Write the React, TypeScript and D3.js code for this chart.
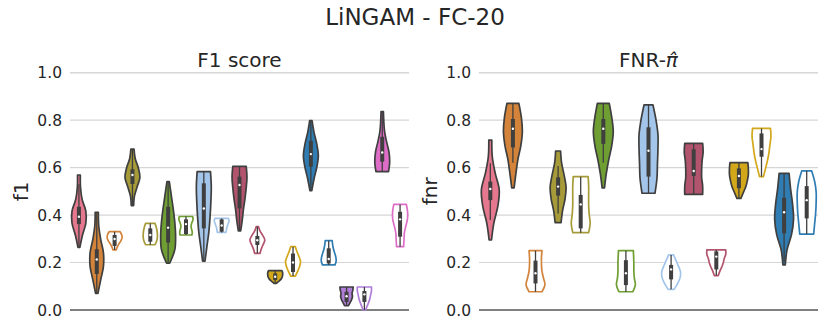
import * as d3 from "d3";

const W = 830;
const H = 332;
const FONT = "DejaVu Sans";
const TEXT = "#262626";
const EDGE = "#3f3f3f";

// one colour per method (muted, as seaborn draws them)
const hueColors = [
  "#e5778f", // pink
  "#d3843a", // orange
  "#a69b38", // olive
  "#6f9e33", // green
  "#a3c5ea", // light blue
  "#b3546e", // rose
  "#d2a81a", // gold
  "#2f7db3", // blue
  "#b07dd8", // purple
  "#dd6dc7", // magenta
];

const yTicks = [0, 0.2, 0.4, 0.6, 0.8, 1.0];

// ---- F1 score panel ----
const f1Hue = [0, 1, 1, 2, 2, 3, 3, 4, 4, 5, 5, 6, 6, 7, 7, 8, 8, 9, 9];
const f1Filled = [1, 1, 0, 1, 0, 1, 0, 1, 0, 1, 0, 1, 0, 1, 0, 1, 0, 1, 0];
// [min, whiskerLow, q1, median, q3, whiskerHigh, max]
const f1Box = [
  [0.264, 0.264, 0.362, 0.393, 0.435, 0.53, 0.569],
  [0.07, 0.07, 0.152, 0.213, 0.256, 0.41, 0.412],
  [0.253, 0.253, 0.27, 0.299, 0.316, 0.33, 0.33],
  [0.44, 0.44, 0.531, 0.569, 0.593, 0.678, 0.678],
  [0.275, 0.275, 0.288, 0.316, 0.344, 0.365, 0.365],
  [0.197, 0.197, 0.284, 0.347, 0.435, 0.541, 0.541],
  [0.316, 0.316, 0.32, 0.362, 0.382, 0.394, 0.394],
  [0.206, 0.206, 0.344, 0.428, 0.534, 0.583, 0.583],
  [0.327, 0.327, 0.33, 0.356, 0.382, 0.386, 0.386],
  [0.333, 0.333, 0.428, 0.527, 0.562, 0.605, 0.605],
  [0.239, 0.239, 0.274, 0.294, 0.312, 0.351, 0.351],
  [0.112, 0.112, 0.126, 0.14, 0.154, 0.166, 0.166],
  [0.143, 0.143, 0.16, 0.2, 0.238, 0.267, 0.267],
  [0.503, 0.503, 0.604, 0.657, 0.713, 0.798, 0.798],
  [0.19, 0.19, 0.196, 0.215, 0.26, 0.292, 0.292],
  [0.018, 0.018, 0.034, 0.058, 0.077, 0.097, 0.097],
  [0.0, 0.0, 0.034, 0.066, 0.08, 0.097, 0.097],
  [0.583, 0.583, 0.625, 0.664, 0.73, 0.836, 0.836],
  [0.267, 0.267, 0.309, 0.382, 0.414, 0.445, 0.445],
];
// relative width at evenly spaced points from min (first) to max (last)
const f1Density = [
  [0.12, 0.45, 0.88, 0.88, 0.4, 0.2, 0.18],
  [0.15, 0.5, 0.85, 0.85, 0.5, 0.25, 0.2],
  [0.2, 0.35, 0.55, 0.8, 0.95, 0.9, 0.7],
  [0.15, 0.25, 0.6, 0.95, 0.75, 0.35, 0.2],
  [0.6, 0.8, 0.9, 0.9, 0.85, 0.75, 0.6],
  [0.2, 0.85, 0.95, 0.85, 0.65, 0.4, 0.15],
  [0.75, 0.8, 0.7, 0.65, 0.75, 0.9, 0.85],
  [0.15, 0.4, 0.65, 0.8, 0.9, 0.95, 0.85],
  [0.55, 0.6, 0.65, 0.75, 0.85, 0.95, 0.85],
  [0.15, 0.35, 0.5, 0.7, 0.85, 0.95, 0.85],
  [0.35, 0.5, 0.75, 0.95, 0.7, 0.35, 0.15],
  [0.15, 0.45, 0.75, 0.9, 0.95, 0.95, 0.85],
  [0.3, 0.6, 0.85, 0.95, 0.75, 0.5, 0.3],
  [0.12, 0.4, 0.75, 0.95, 0.75, 0.4, 0.15],
  [0.8, 0.95, 0.9, 0.75, 0.6, 0.5, 0.45],
  [0.25, 0.45, 0.65, 0.75, 0.7, 0.8, 0.85],
  [0.15, 0.35, 0.55, 0.7, 0.8, 0.9, 0.9],
  [0.8, 0.95, 0.85, 0.55, 0.3, 0.2, 0.15],
  [0.45, 0.5, 0.55, 0.75, 0.95, 0.95, 0.8],
];

// ---- FNR panel ----
const fnrHue = [0, 1, 1, 2, 2, 3, 3, 4, 4, 5, 5, 6, 6, 7, 7];
const fnrFilled = [1, 1, 0, 1, 0, 1, 0, 1, 0, 1, 0, 1, 0, 1, 0];
const fnrBox = [
  [0.295, 0.379, 0.463, 0.51, 0.541, 0.618, 0.716],
  [0.515, 0.62, 0.685, 0.764, 0.805, 0.871, 0.871],
  [0.077, 0.077, 0.112, 0.155, 0.208, 0.25, 0.25],
  [0.368, 0.407, 0.482, 0.52, 0.559, 0.607, 0.67],
  [0.326, 0.326, 0.344, 0.445, 0.485, 0.562, 0.562],
  [0.515, 0.62, 0.7, 0.764, 0.805, 0.871, 0.871],
  [0.077, 0.077, 0.105, 0.155, 0.21, 0.25, 0.25],
  [0.492, 0.492, 0.562, 0.671, 0.77, 0.864, 0.864],
  [0.087, 0.087, 0.129, 0.171, 0.19, 0.232, 0.232],
  [0.487, 0.487, 0.565, 0.586, 0.677, 0.702, 0.702],
  [0.145, 0.145, 0.171, 0.225, 0.247, 0.253, 0.253],
  [0.47, 0.47, 0.513, 0.565, 0.597, 0.621, 0.621],
  [0.562, 0.562, 0.646, 0.678, 0.744, 0.765, 0.765],
  [0.19, 0.2, 0.323, 0.412, 0.473, 0.576, 0.576],
  [0.32, 0.32, 0.386, 0.463, 0.522, 0.586, 0.586],
];
const fnrDensity = [
  [0.12, 0.35, 0.75, 0.9, 0.5, 0.2, 0.15],
  [0.12, 0.3, 0.5, 0.8, 0.95, 0.85, 0.6],
  [0.65, 0.95, 0.8, 0.65, 0.6, 0.6, 0.65],
  [0.3, 0.45, 0.7, 0.8, 0.6, 0.35, 0.25],
  [0.8, 0.95, 0.85, 0.8, 0.8, 0.8, 0.75],
  [0.12, 0.3, 0.55, 0.85, 1.0, 0.85, 0.6],
  [0.7, 0.95, 0.85, 0.8, 0.8, 0.78, 0.75],
  [0.65, 0.85, 0.9, 0.95, 0.95, 0.75, 0.45],
  [0.3, 0.65, 0.9, 0.95, 0.75, 0.5, 0.25],
  [0.9, 0.9, 0.8, 0.8, 0.85, 0.95, 0.9],
  [0.2, 0.35, 0.55, 0.7, 0.8, 0.95, 0.95],
  [0.2, 0.45, 0.7, 0.85, 0.95, 0.95, 0.9],
  [0.2, 0.4, 0.6, 0.75, 0.85, 0.95, 0.9],
  [0.12, 0.3, 0.75, 0.95, 0.85, 0.65, 0.5],
  [0.7, 0.8, 0.9, 0.95, 0.95, 0.8, 0.5],
];

const PLOT_TOP = 72.7;
const PLOT_BOTTOM = 310;

type PanelProps = {
  left: number;
  right: number;
  title: React.ReactNode;
  ylabel: string;
  hue: number[];
  filled: number[];
  box: number[][];
  density: number[][];
};

const Panel = ({ left, right, title, ylabel, hue, filled, box, density }: PanelProps) => {
  const y = d3.scaleLinear().domain([0, 1]).range([PLOT_BOTTOM, PLOT_TOP]);
  const x = d3
    .scaleBand<number>()
    .domain(d3.range(hue.length))
    .range([left, right])
    .padding(0);
  const half = (x.bandwidth() * 0.88) / 2;
  const cx = (i: number) => (x(i) as number) + x.bandwidth() / 2;

  return (
    <g>
      <text
        x={(left + right) / 2}
        y={67}
        fontSize={20}
        textAnchor="middle"
        fill={TEXT}
      >
        {title}
      </text>
      <text
        transform={`translate(${left - 42},${(PLOT_TOP + PLOT_BOTTOM) / 2}) rotate(-90)`}
        fontSize={20}
        textAnchor="middle"
        fill={TEXT}
      >
        {ylabel}
      </text>

      {/* grid */}
      {yTicks.map((t) => (
        <g key={t}>
          {t > 0 && (
            <line
              x1={left}
              x2={right}
              y1={y(t)}
              y2={y(t)}
              stroke="#d6d6d6"
              strokeWidth={t === 1 ? 1.6 : 1.1}
            />
          )}
          <text
            x={left - 8}
            y={y(t) + 5.6}
            fontSize={15.5}
            textAnchor="end"
            fill={TEXT}
          >
            {t.toFixed(1)}
          </text>
        </g>
      ))}
      <line x1={left} x2={right} y1={y(0)} y2={y(0)} stroke="#808080" strokeWidth={2} />

      {/* violins */}
      {box.map((b, i) => {
        const [mn, wlo, q1, med, q3, whi, mx] = b;
        const dens = density[i];
        const pts = dens.map((w, k) => ({
          v: mn + ((mx - mn) * k) / (dens.length - 1),
          w,
        }));
        const area = d3
          .area<{ v: number; w: number }>()
          .y((p) => y(p.v))
          .x0((p) => cx(i) - p.w * half)
          .x1((p) => cx(i) + p.w * half)
          .curve(d3.curveCatmullRom.alpha(0.5));
        const color = hueColors[hue[i]];
        const isFilled = filled[i] === 1;
        return (
          <g key={i}>
            <path
              d={area(pts) || ""}
              fill={isFilled ? color : "white"}
              stroke={isFilled ? EDGE : color}
              strokeWidth={1.7}
              strokeLinejoin="round"
            />
            <line
              x1={cx(i)}
              x2={cx(i)}
              y1={y(wlo)}
              y2={y(whi)}
              stroke={EDGE}
              strokeWidth={1.3}
            />
            <line
              x1={cx(i)}
              x2={cx(i)}
              y1={y(q1)}
              y2={y(q3)}
              stroke={EDGE}
              strokeWidth={4}
            />
            <circle cx={cx(i)} cy={y(med)} r={1.2} fill="white" />
          </g>
        );
      })}
    </g>
  );
};

export default function App() {
  return (
    <svg
      width={W}
      height={H}
      style={{ position: "absolute", left: 0, top: 0, background: "white" }}
      fontFamily={FONT}
    >
      <rect width={W} height={H} fill="white" />
      <text x={415} y={25} fontSize={23} textAnchor="middle" fill={TEXT}>
        LiNGAM - FC-20
      </text>
      <Panel
        left={70}
        right={409}
        title="F1 score"
        ylabel="f1"
        hue={f1Hue}
        filled={f1Filled}
        box={f1Box}
        density={f1Density}
      />
      <Panel
        left={479}
        right={818}
        title={
          <>
            FNR-<tspan fontStyle="italic">π̂</tspan>
          </>
        }
        ylabel="fnr"
        hue={fnrHue}
        filled={fnrFilled}
        box={fnrBox}
        density={fnrDensity}
      />
    </svg>
  );
}
